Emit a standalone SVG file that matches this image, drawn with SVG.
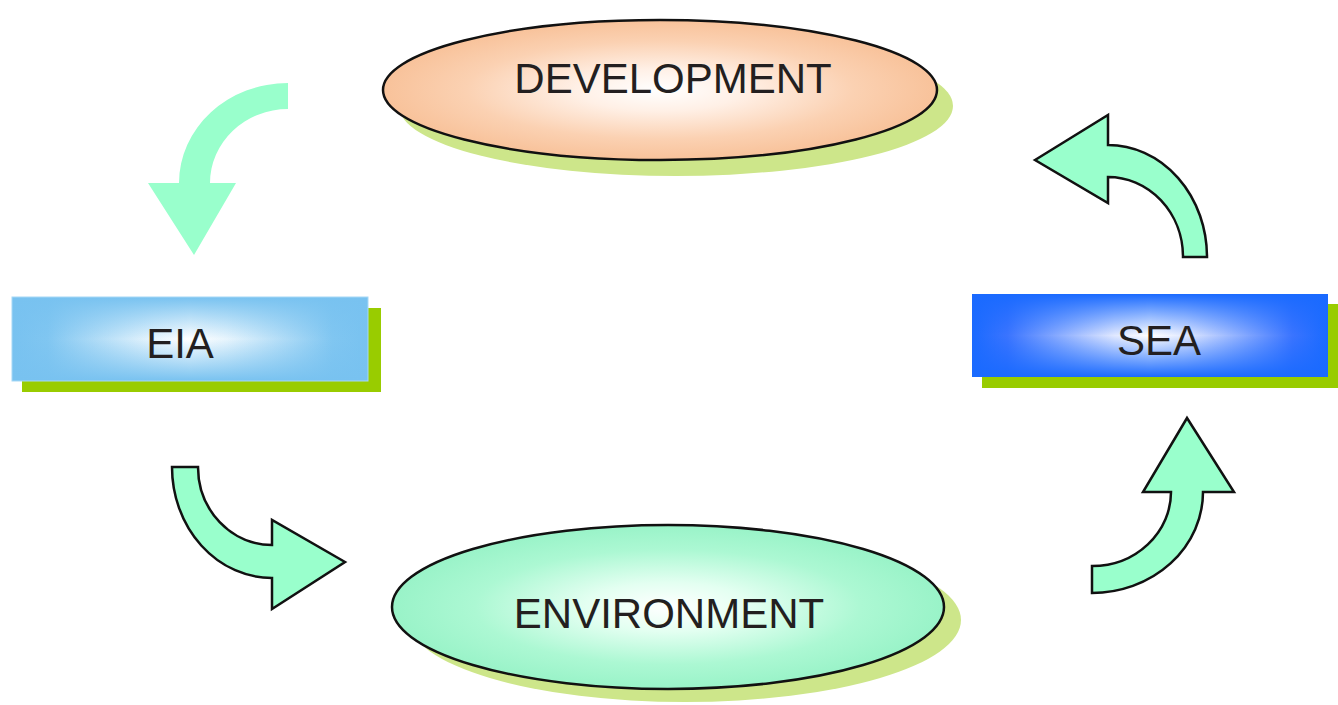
<svg xmlns="http://www.w3.org/2000/svg" width="1338" height="705" viewBox="0 0 1338 705">
<style>
text{font-family:"Liberation Sans",Arial,sans-serif;font-size:42px;fill:#231f20;text-anchor:middle}
.arr{fill:#99ffcc;stroke:#111;stroke-width:2.5;stroke-linejoin:miter}
.sh-e{fill:#cde68a}
.sh-r{fill:#99cc00}
.el{stroke:#111;stroke-width:2.5}
</style>
<defs>
<radialGradient id="gDev" cx="0.5" cy="0.5" r="0.5">
<stop offset="0" stop-color="#ffffff"/>
<stop offset="0.3" stop-color="#fff0e6"/>
<stop offset="0.7" stop-color="#fbd1b2"/>
<stop offset="1" stop-color="#f8c29a"/>
</radialGradient>
<radialGradient id="gEnv" cx="0.5" cy="0.5" r="0.5">
<stop offset="0" stop-color="#ffffff"/>
<stop offset="0.3" stop-color="#e3fff1"/>
<stop offset="0.7" stop-color="#acf8d3"/>
<stop offset="1" stop-color="#99f3c8"/>
</radialGradient>
<linearGradient id="hEia" x1="0" y1="0" x2="1" y2="0">
<stop offset="0" stop-color="#78c2f0"/>
<stop offset="0.1" stop-color="#80c6f1"/>
<stop offset="0.4" stop-color="#e8f5fd"/>
<stop offset="0.5" stop-color="#ffffff"/>
<stop offset="0.6" stop-color="#e8f5fd"/>
<stop offset="0.9" stop-color="#80c6f1"/>
<stop offset="1" stop-color="#78c2f0"/>
</linearGradient>
<linearGradient id="vEia" x1="0" y1="0" x2="0" y2="1">
<stop offset="0" stop-color="#78c2f0" stop-opacity="1"/>
<stop offset="0.5" stop-color="#78c2f0" stop-opacity="0"/>
<stop offset="1" stop-color="#78c2f0" stop-opacity="1"/>
</linearGradient>
<linearGradient id="hSea" x1="0" y1="0" x2="1" y2="0">
<stop offset="0" stop-color="#1a6aff"/>
<stop offset="0.1" stop-color="#3a74ff"/>
<stop offset="0.4" stop-color="#e0e8ff"/>
<stop offset="0.5" stop-color="#ffffff"/>
<stop offset="0.6" stop-color="#e0e8ff"/>
<stop offset="0.9" stop-color="#3a74ff"/>
<stop offset="1" stop-color="#1a6aff"/>
</linearGradient>
<linearGradient id="vSea" x1="0" y1="0" x2="0" y2="1">
<stop offset="0" stop-color="#1a6aff" stop-opacity="1"/>
<stop offset="0.5" stop-color="#1a6aff" stop-opacity="0"/>
<stop offset="1" stop-color="#1a6aff" stop-opacity="1"/>
</linearGradient>
</defs>
<rect width="1338" height="705" fill="#ffffff"/>

<g id="development">
<ellipse class="sh-e" cx="676" cy="106" rx="277" ry="70"/>
<ellipse class="el" cx="660" cy="90" rx="277" ry="70" fill="url(#gDev)"/>
<text x="673" y="93">DEVELOPMENT</text>
</g>

<g id="environment">
<ellipse class="sh-e" cx="685" cy="620" rx="276" ry="82"/>
<ellipse class="el" cx="668" cy="607" rx="276" ry="82" fill="url(#gEnv)"/>
<text x="669" y="628">ENVIRONMENT</text>
</g>

<g id="eia">
<rect class="sh-r" x="22" y="308" width="359" height="84"/>
<rect x="12" y="297" width="356" height="84" fill="url(#hEia)"/>
<rect x="12" y="297" width="356" height="84" fill="url(#vEia)" stroke="#a6d8f6" stroke-width="1"/>
<text x="180" y="358">EIA</text>
</g>

<g id="sea">
<rect class="sh-r" x="982" y="304" width="356" height="84"/>
<rect x="972" y="294" width="356" height="83" fill="url(#hSea)"/>
<rect x="972" y="294" width="356" height="83" fill="url(#vSea)"/>
<text x="1159" y="355">SEA</text>
</g>

<g id="connectors">
<path d="M288,83 A109,100 0 0 0 179,183 L148,183 L194,255 L236,183 L210,183 A78,74 0 0 1 288,109 Z" fill="#99ffcc"/>
<path class="arr" d="M172,467 L198,467 A74,78 0 0 0 272,545 L272,520 L345,562 L272,609 L272,578 A100,111 0 0 1 172,467 Z"/>
<path class="arr" d="M1092,593 L1092,566 A79,74 0 0 0 1171,492 L1143,492 L1187,418 L1234,492 L1203,492 A111,101 0 0 1 1092,593 Z"/>
<path class="arr" d="M1035,160 L1108,115 L1108,145 A99,112 0 0 1 1207,257 L1183,257 A75,80 0 0 0 1108,177 L1108,203 Z"/>
</g>
</svg>
